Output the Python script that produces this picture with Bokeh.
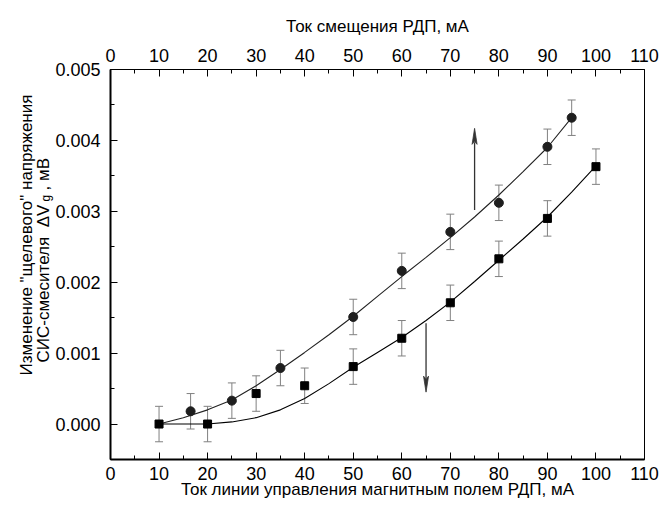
import math
from bokeh.plotting import figure
from bokeh.models import (ColumnDataSource, LinearAxis, FixedTicker, Range1d,
                          Whisker, TeeHead, Title, PrintfTickFormatter)
from bokeh.embed import file_html
from bokeh.resources import INLINE

# ---------------- data ----------------
circle_x = [16.5, 25, 35, 50, 60, 70, 80, 90, 95]
circle_y = [0.00018, 0.00033, 0.00079, 0.00151, 0.00216, 0.00271, 0.00312, 0.00391, 0.00432]
square_x = [10, 20, 30, 40, 50, 60, 70, 80, 90, 100]
square_y = [0.0, 0.0, 0.00043, 0.00054, 0.00081, 0.00121, 0.00171, 0.00233, 0.0029, 0.00363]
error = 0.00025

circle_fit_x = [10, 15, 20, 25, 30, 35, 40, 45, 50, 55, 60, 65, 70, 75, 80, 85, 90, 95]
circle_fit_y = [0.0, 0.00009, 0.0002, 0.00034, 0.00054, 0.00077, 0.00101, 0.00126, 0.00152,
                0.0018, 0.00208, 0.00235, 0.00263, 0.00292, 0.00323, 0.00356, 0.0039, 0.00432]
square_fit_x = [10, 20, 25, 30, 35, 40, 45, 50, 55, 60, 65, 70, 75, 80, 85, 90, 95, 100]
square_fit_y = [0.0, 0.0, 0.00003, 0.00009, 0.0002, 0.00036, 0.00057, 0.0008, 0.00101, 0.00122,
                0.00146, 0.00172, 0.00201, 0.00231, 0.00261, 0.00292, 0.00327, 0.00364]

x_ticks = [0, 10, 20, 30, 40, 50, 60, 70, 80, 90, 100, 110]
x_minor = [5, 15, 25, 35, 45, 55, 65, 75, 85, 95, 105]
y_ticks = [0.0, 0.001, 0.002, 0.003, 0.004, 0.005]
y_minor = [-0.0005, 0.0005, 0.0015, 0.0025, 0.0035, 0.0045]

arrow_x = [75, 65]
arrow_tail = [0.00302, 0.00142]
arrow_tip = [0.00417, 0.00045]

top_title = "Ток смещения РДП, мА"
bottom_title = "Ток линии управления магнитным полем РДП, мА"
left_title_1 = 'Изменение "щелевого" напряжения'
left_title_2 = "СИС-смесителя\u00a0\u00a0ΔV\u00a0\u00a0\u00a0, мВ"
left_title_sub = "g"

# ---------------- layout ----------------
W, H = 661, 510
FL, FR, FT, FB = 110, 17, 69, 51
X0, X1 = 0, 110
Y0, Y1 = -0.0005, 0.005
FONT = "Liberation Sans"

p = figure(width=W, height=H, x_range=Range1d(X0, X1), y_range=Range1d(Y0, Y1),
           output_backend="svg", toolbar_location=None,
           min_border_left=FL, min_border_right=FR, min_border_top=FT, min_border_bottom=FB,
           x_axis_location=None, y_axis_location=None)
p.grid.visible = False
p.background_fill_color = "white"
p.border_fill_color = "white"
p.outline_line_color = "black"
p.outline_line_width = 1

bottom_axis = LinearAxis(ticker=FixedTicker(ticks=x_ticks, minor_ticks=x_minor),
                         axis_label=bottom_title)
top_axis = LinearAxis(ticker=FixedTicker(ticks=x_ticks, minor_ticks=x_minor),
                      axis_label=top_title)
left_axis = LinearAxis(ticker=FixedTicker(ticks=y_ticks, minor_ticks=y_minor),
                       formatter=PrintfTickFormatter(format="%.3f"))
p.add_layout(bottom_axis, "below")
p.add_layout(top_axis, "above")
p.add_layout(left_axis, "left")

for ax in [bottom_axis, top_axis, left_axis]:
    ax.major_tick_in = 7
    ax.major_tick_out = 0
    ax.minor_tick_in = 4
    ax.minor_tick_out = 0
    ax.major_tick_line_color = "black"
    ax.minor_tick_line_color = "black"
    ax.axis_line_color = "black"
    ax.major_label_text_font = FONT
    ax.major_label_text_font_size = "18px"
    ax.major_label_text_color = "black"
    ax.axis_label_text_font = FONT
    ax.axis_label_text_font_size = "17px"
    ax.axis_label_text_font_style = "normal"
    ax.axis_label_text_color = "black"
bottom_axis.axis_line_width = 2
left_axis.axis_line_width = 2
top_axis.axis_line_width = 1
bottom_axis.major_label_standoff = 7
top_axis.major_label_standoff = 8
left_axis.major_label_standoff = 10
bottom_axis.axis_label_standoff = -3
top_axis.axis_label_standoff = 10

# left title pieces (frame outward): subscript, second line, first line
# (text, font size, canvas y where the text starts, standoff)
frame_bottom = H - FB
for txt, fs, start_y, so in [(left_title_sub, "12px", 201, 0),
                             (left_title_2, "17px", 362, -32),
                             (left_title_1, "17px", 375, 2)]:
    t = Title(text=txt, align="left", offset=frame_bottom - start_y, standoff=so,
              text_font=FONT, text_font_size=fs, text_font_style="normal",
              text_color="black")
    p.add_layout(t, "left")

# ---------------- error bars ----------------
ERR_COLOR = "#808080"
c_src = ColumnDataSource(dict(x=circle_x, y=circle_y,
                              lo=[v - error for v in circle_y], hi=[v + error for v in circle_y]))
s_src = ColumnDataSource(dict(x=square_x, y=square_y,
                              lo=[v - error for v in square_y], hi=[v + error for v in square_y]))
for src in (c_src, s_src):
    w = Whisker(source=src, base="x", lower="lo", upper="hi", dimension="height",
                line_color=ERR_COLOR, line_width=1,
                lower_head=TeeHead(size=8, line_color=ERR_COLOR, line_width=1),
                upper_head=TeeHead(size=8, line_color=ERR_COLOR, line_width=1))
    p.add_layout(w)

# ---------------- fit curves ----------------
p.line(circle_fit_x, circle_fit_y, line_color="#222222", line_width=1.1)
p.line(square_fit_x, square_fit_y, line_color="black", line_width=1.1)

# ---------------- markers ----------------
p.scatter("x", "y", source=c_src, marker="circle", size=9, fill_color="#1e1e1e", line_color="#1e1e1e")
p.scatter("x", "y", source=s_src, marker="square", size=8, fill_color="black", line_color="black")

# ---------------- arrows ----------------
px_per_x = (W - FL - FR) / (X1 - X0)
px_per_y = (H - FT - FB) / (Y1 - Y0)
HEAD_LEN, HEAD_HW = 16, 2.5
xs_heads, ys_heads, sx0, sy0, sx1, sy1 = [], [], [], [], [], []
for ax_, t0, t1 in zip(arrow_x, arrow_tail, arrow_tip):
    d = 1 if t1 > t0 else -1
    base = t1 - d * HEAD_LEN / px_per_y
    hw = HEAD_HW / px_per_x
    xs_heads.append([ax_ - hw, ax_, ax_ + hw, ax_])
    ys_heads.append([base, t1, base, base + d * 3 / px_per_y])
    sx0.append(ax_); sy0.append(t0); sx1.append(ax_); sy1.append(base + d * 2 / px_per_y)
p.segment(sx0, sy0, sx1, sy1, line_color="#333333", line_width=1.3)
p.patches(xs_heads, ys_heads, fill_color="#333333", line_color="#333333", line_width=0.8)

open("out.html", "w").write(file_html(p, INLINE))
